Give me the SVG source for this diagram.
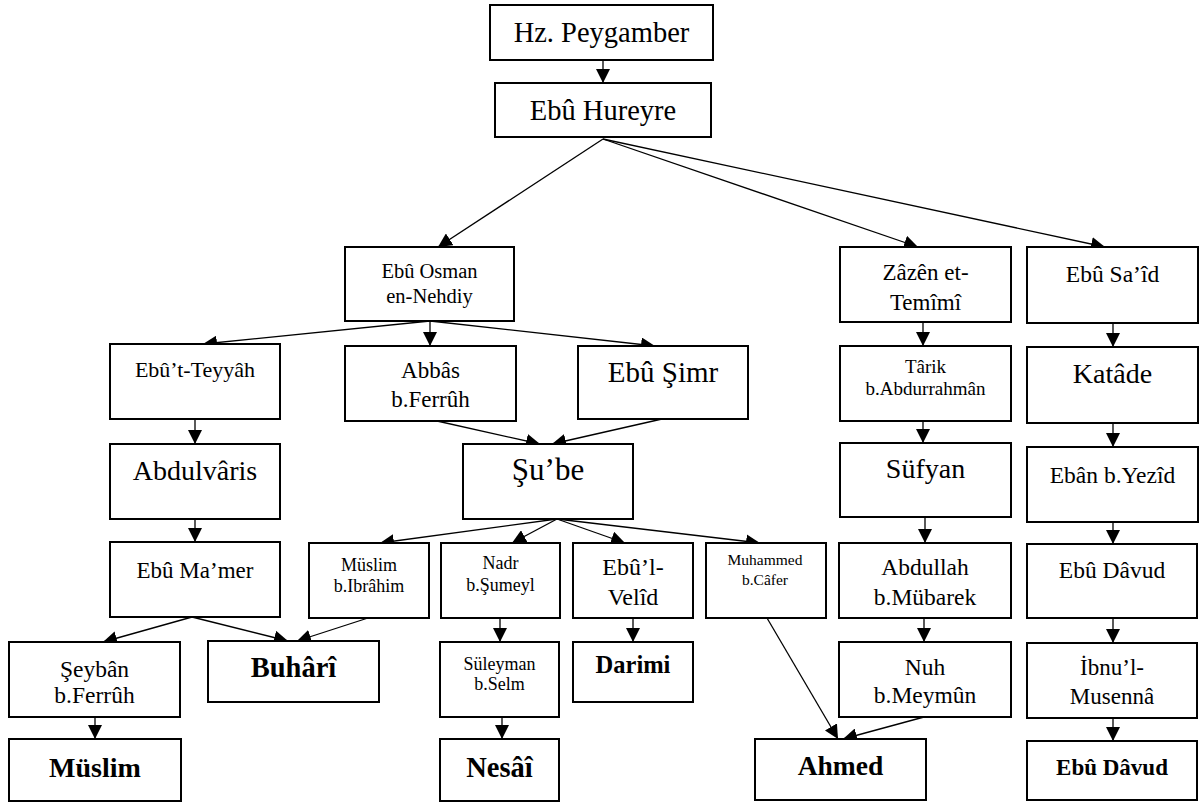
<svg xmlns="http://www.w3.org/2000/svg" width="1200" height="803" viewBox="0 0 1200 803" font-family="'Liberation Serif', Tinos, 'Times New Roman', 'DejaVu Serif', serif">
<style>
.box{fill:#fff;stroke:#000;stroke-width:2}
text{font-family:'Liberation Serif', Tinos, 'Times New Roman', 'DejaVu Serif', serif;fill:#000;text-anchor:middle}
.b{font-weight:bold}
.con line{stroke:#000;stroke-width:1.3;marker-end:url(#ah)}
</style>
<defs>
<marker id="ah" markerUnits="userSpaceOnUse" markerWidth="14" markerHeight="14" viewBox="0 0 14 14" refX="14" refY="7" orient="auto">
<path d="M0,0 L14,7 L0,14 z" fill="#000"/>
</marker>
</defs>
<rect width="1200" height="803" fill="#fff"/>
<g id="connectors" class="con">
<line x1="603" y1="60" x2="603" y2="83"/>
<line x1="603" y1="139" x2="438" y2="247"/>
<line x1="603" y1="139" x2="918" y2="247"/>
<line x1="603" y1="139" x2="1105" y2="247"/>
<line x1="430" y1="321" x2="203" y2="344"/>
<line x1="430" y1="321" x2="430" y2="346"/>
<line x1="430" y1="321" x2="655" y2="346"/>
<line x1="195" y1="419" x2="195" y2="444"/>
<line x1="195" y1="519" x2="195" y2="542"/>
<line x1="437" y1="421" x2="540" y2="444"/>
<line x1="662" y1="419" x2="552" y2="444"/>
<line x1="557" y1="519" x2="380" y2="543"/>
<line x1="557" y1="519" x2="512" y2="543"/>
<line x1="557" y1="519" x2="625" y2="543"/>
<line x1="557" y1="519" x2="760" y2="543"/>
<line x1="192" y1="617" x2="103" y2="642"/>
<line x1="192" y1="617" x2="288" y2="641"/>
<line x1="368" y1="618" x2="297" y2="641"/>
<line x1="95" y1="717" x2="95" y2="739"/>
<line x1="500" y1="618" x2="500" y2="642"/>
<line x1="502" y1="717" x2="502" y2="739"/>
<line x1="633" y1="618" x2="633" y2="642"/>
<line x1="767" y1="618" x2="838" y2="739"/>
<line x1="924" y1="717" x2="843" y2="739"/>
<line x1="923" y1="322" x2="923" y2="346"/>
<line x1="923" y1="421" x2="923" y2="443"/>
<line x1="925" y1="517" x2="925" y2="543"/>
<line x1="924" y1="618" x2="924" y2="642"/>
<line x1="1113" y1="322" x2="1113" y2="347"/>
<line x1="1113" y1="423" x2="1113" y2="447"/>
<line x1="1113" y1="522" x2="1113" y2="544"/>
<line x1="1113" y1="618" x2="1113" y2="643"/>
<line x1="1113" y1="718" x2="1113" y2="741"/>
</g>
<g id="hz"><rect class="box" x="490" y="5" width="223" height="55"/><text x="601.5" y="42" font-size="28.5">Hz. Peygamber</text></g>
<g id="ebuhureyre"><rect class="box" x="495" y="83" width="216" height="54"/><text x="603" y="120" font-size="28.5">Ebû Hureyre</text></g>
<g id="ebuosman"><rect class="box" x="345" y="247" width="169" height="74"/><text x="429.5" y="278" font-size="20.5">Ebû Osman</text><text x="429.5" y="303" font-size="20.5">en-Nehdiy</text></g>
<g id="zazen"><rect class="box" x="840" y="247" width="171" height="75"/><text x="925.5" y="280" font-size="23">Zâzên et-</text><text x="925.5" y="310" font-size="23">Temîmî</text></g>
<g id="ebusaid"><rect class="box" x="1027" y="247" width="171" height="76"/><text x="1112.5" y="282" font-size="23.5">Ebû Sa’îd</text></g>
<g id="ebutteyyah"><rect class="box" x="110" y="344" width="170" height="75"/><text x="195" y="377" font-size="22">Ebû’t-Teyyâh</text></g>
<g id="abbas"><rect class="box" x="345" y="346" width="171" height="75"/><text x="430.5" y="378" font-size="23">Abbâs</text><text x="430.5" y="407" font-size="23">b.Ferrûh</text></g>
<g id="ebusimr"><rect class="box" x="578" y="346" width="170" height="73"/><text x="663" y="382" font-size="29">Ebû Şimr</text></g>
<g id="tarik"><rect class="box" x="840" y="346" width="171" height="75"/><text x="925.5" y="373" font-size="19">Târik</text><text x="925.5" y="395" font-size="19">b.Abdurrahmân</text></g>
<g id="katade"><rect class="box" x="1027" y="347" width="171" height="76"/><text x="1112.5" y="383" font-size="28">Katâde</text></g>
<g id="abdulvaris"><rect class="box" x="110" y="444" width="170" height="75"/><text x="195" y="480" font-size="28">Abdulvâris</text></g>
<g id="sube"><rect class="box" x="463" y="444" width="170" height="75"/><text x="548" y="480" font-size="31">Şu’be</text></g>
<g id="sufyan"><rect class="box" x="840" y="443" width="171" height="74"/><text x="925.5" y="478" font-size="28">Süfyan</text></g>
<g id="eban"><rect class="box" x="1027" y="447" width="171" height="75"/><text x="1112.5" y="483" font-size="23.5">Ebân b.Yezîd</text></g>
<g id="ebumamer"><rect class="box" x="110" y="542" width="170" height="75"/><text x="195" y="578" font-size="23">Ebû Ma’mer</text></g>
<g id="muslimibrahim"><rect class="box" x="309" y="543" width="120" height="75"/><text x="369" y="571" font-size="18">Müslim</text><text x="369" y="592" font-size="18">b.Ibrâhim</text></g>
<g id="nadr"><rect class="box" x="441" y="543" width="119" height="75"/><text x="500.5" y="569" font-size="18">Nadr</text><text x="500.5" y="591" font-size="18">b.Şumeyl</text></g>
<g id="ebulvelid"><rect class="box" x="573" y="543" width="120" height="75"/><text x="633" y="575" font-size="24">Ebû’l-</text><text x="633" y="605" font-size="24">Velîd</text></g>
<g id="muhammedcafer"><rect class="box" x="706" y="543" width="120" height="75"/><text x="765" y="565" font-size="15.5">Muhammed</text><text x="765" y="585" font-size="15.5">b.Câfer</text></g>
<g id="abdullah"><rect class="box" x="839" y="543" width="172" height="75"/><text x="925" y="575" font-size="23.5">Abdullah</text><text x="925" y="605" font-size="23.5">b.Mübarek</text></g>
<g id="ebudavud1"><rect class="box" x="1027" y="544" width="170" height="74"/><text x="1112" y="578" font-size="23.5">Ebû Dâvud</text></g>
<g id="seyban"><rect class="box" x="9" y="642" width="171" height="75"/><text x="94.5" y="677" font-size="23.5">Şeybân</text><text x="94.5" y="703" font-size="23.5">b.Ferrûh</text></g>
<g id="buhari"><rect class="box" x="208" y="641" width="171" height="61"/><text x="293.5" y="677" font-size="28.5" class="b">Buhârî</text></g>
<g id="suleyman"><rect class="box" x="440" y="642" width="119" height="75"/><text x="499.5" y="670" font-size="18">Süleyman</text><text x="499.5" y="690" font-size="18">b.Selm</text></g>
<g id="darimi"><rect class="box" x="573" y="642" width="120" height="60"/><text x="633" y="673" font-size="24.5" class="b">Darimi</text></g>
<g id="nuh"><rect class="box" x="839" y="642" width="172" height="75"/><text x="925" y="675" font-size="23.5">Nuh</text><text x="925" y="703" font-size="23.5">b.Meymûn</text></g>
<g id="ibnulmusenna"><rect class="box" x="1027" y="643" width="170" height="75"/><text x="1112" y="675" font-size="23">İbnu’l-</text><text x="1112" y="704" font-size="23">Musennâ</text></g>
<g id="muslim"><rect class="box" x="9" y="739" width="172" height="62"/><text x="95" y="777" font-size="28" class="b">Müslim</text></g>
<g id="nesai"><rect class="box" x="440" y="739" width="119" height="62"/><text x="499.5" y="777" font-size="28.5" class="b">Nesâî</text></g>
<g id="ahmed"><rect class="box" x="755" y="739" width="171" height="61"/><text x="840.5" y="775" font-size="27.5" class="b">Ahmed</text></g>
<g id="ebudavud2"><rect class="box" x="1027" y="741" width="170" height="59"/><text x="1112" y="775" font-size="23" class="b">Ebû Dâvud</text></g>
</svg>
